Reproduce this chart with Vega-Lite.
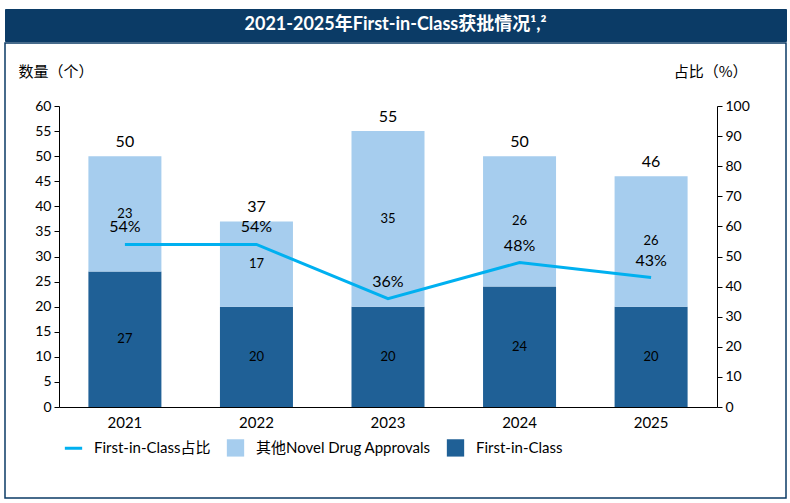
{
  "$schema": "https://vega.github.io/schema/vega-lite/v6.json",
  "padding": {"left": 4, "top": 8, "right": 5, "bottom": 5},
  "background": "white",
  "spacing": 0,
  "config": {
    "font": "Lato, Noto Sans CJK SC",
    "axis": {"labelFont": "Lato, Noto Sans CJK SC", "titleFont": "Noto Sans CJK SC", "labelColor": "black", "domainColor": "black", "tickColor": "black", "grid": false},
    "legend": {"labelFont": "Lato, Noto Sans CJK SC"}
  },
  "vconcat": [
    {
      "width": 781,
      "height": 32,
      "view": {"fill": "#0b3b66", "stroke": "#0b3b66"},
      "data": {"values": [{"t": "2021-2025年First-in-Class获批情况¹,²"}]},
      "mark": {"type": "text", "color": "white", "fontSize": 18, "fontWeight": "bold", "font": "Lato, Noto Sans CJK SC", "baseline": "middle", "align": "center"},
      "encoding": {
        "x": {"field": "t", "type": "nominal", "axis": null, "scale": {"type": "point"}},
        "y": {"field": "t", "type": "nominal", "axis": null, "scale": {"type": "point"}},
        "text": {"field": "t"}
      }
    },
    {
      "width": 781,
      "height": 455,
      "view": {"stroke": "#0b3b66", "strokeWidth": 1.5, "fill": "white"},
      "layer": [
        {
          "data": {"values": [
            {"year": "2021", "type": "First-in-Class", "value": 27},
            {"year": "2021", "type": "其他Novel Drug Approvals", "value": 23},
            {"year": "2022", "type": "First-in-Class", "value": 20},
            {"year": "2022", "type": "其他Novel Drug Approvals", "value": 17},
            {"year": "2023", "type": "First-in-Class", "value": 20},
            {"year": "2023", "type": "其他Novel Drug Approvals", "value": 35},
            {"year": "2024", "type": "First-in-Class", "value": 24},
            {"year": "2024", "type": "其他Novel Drug Approvals", "value": 26},
            {"year": "2025", "type": "First-in-Class", "value": 20},
            {"year": "2025", "type": "其他Novel Drug Approvals", "value": 26}
          ]},
          "layer": [
            {
              "mark": {"type": "bar"},
              "encoding": {
                "x": {"field": "year", "type": "nominal", "sort": null,
                  "scale": {"range": [54, 712], "paddingInner": 0.445, "paddingOuter": 0.2235},
                  "axis": {"orient": "bottom", "offset": -91, "title": null, "labelAngle": 0, "labelFontSize": 15, "ticks": false, "labelPadding": 8, "domainWidth": 1}},
                "y": {"field": "value", "type": "quantitative", "stack": "zero",
                  "scale": {"domain": [0, 60], "range": [364, 63], "nice": false},
                  "axis": {"orient": "left", "offset": -54, "values": [0,5,10,15,20,25,30,35,40,45,50,55,60], "labelOverlap": false, "title": "数量（个）", "titleAngle": 0, "titleX": -41, "titleY": 28, "titleAlign": "left", "titleBaseline": "middle", "titleFontSize": 15, "titleFontWeight": "normal", "titleColor": "black", "labelFontSize": 14, "tickSize": 5, "labelPadding": 3}},
                "color": {"field": "type", "type": "nominal",
                  "scale": {"domain": ["First-in-Class占比", "其他Novel Drug Approvals", "First-in-Class"], "range": ["#00b0f0", "#a6cdee", "#1f6096"]},
                  "legend": {"orient": "none", "legendX": 61, "legendY": 431, "direction": "horizontal", "title": null, "labelFontSize": 15, "labelColor": "black", "labelLimit": 400, "symbolSize": 300, "labelOffset": 13, "columnPadding": 15, "padding": 0,
                    "encode": {"symbols": {"update": {
                      "shape": {"signal": "datum.value === 'First-in-Class占比' ? 'stroke' : 'square'"},
                      "stroke": {"signal": "datum.value === 'First-in-Class占比' ? '#00b0f0' : 'transparent'"},
                      "strokeWidth": {"signal": "datum.value === 'First-in-Class占比' ? 3 : 0"},
                      "opacity": {"value": 1}
                    }}}}},
                "order": {"field": "type", "sort": "ascending"}
              }
            },
            {
              "transform": [
                {"stack": "value", "groupby": ["year"], "sort": [{"field": "type", "order": "ascending"}], "as": ["v0", "v1"]},
                {"calculate": "(datum.v0 + datum.v1) / 2", "as": "mid"}
              ],
              "mark": {"type": "text", "fontSize": 13, "color": "black", "baseline": "middle"},
              "encoding": {
                "x": {"field": "year", "type": "nominal", "sort": null},
                "y": {"field": "mid", "type": "quantitative",
                  "axis": {"orient": "left", "offset": -54, "values": [0,5,10,15,20,25,30,35,40,45,50,55,60], "labelOverlap": false, "title": "数量（个）", "titleAngle": 0, "titleX": -41, "titleY": 28, "titleAlign": "left", "titleBaseline": "middle", "titleFontSize": 15, "titleFontWeight": "normal", "titleColor": "black", "labelFontSize": 14, "tickSize": 5, "labelPadding": 3}},
                "text": {"field": "value", "type": "quantitative"}
              }
            },
            {
              "mark": {"type": "text", "fontSize": 16, "color": "black", "baseline": "alphabetic", "dy": -9},
              "encoding": {
                "x": {"field": "year", "type": "nominal", "sort": null},
                "y": {"aggregate": "sum", "field": "value", "type": "quantitative",
                  "axis": {"orient": "left", "offset": -54, "values": [0,5,10,15,20,25,30,35,40,45,50,55,60], "labelOverlap": false, "title": "数量（个）", "titleAngle": 0, "titleX": -41, "titleY": 28, "titleAlign": "left", "titleBaseline": "middle", "titleFontSize": 15, "titleFontWeight": "normal", "titleColor": "black", "labelFontSize": 14, "tickSize": 5, "labelPadding": 3}},
                "text": {"aggregate": "sum", "field": "value", "type": "quantitative"}
              }
            }
          ]
        },
        {
          "data": {"values": [
            {"year": "2021", "pct": 54, "lbl": "54%", "s": "First-in-Class占比"},
            {"year": "2022", "pct": 54, "lbl": "54%", "s": "First-in-Class占比"},
            {"year": "2023", "pct": 36, "lbl": "36%", "s": "First-in-Class占比"},
            {"year": "2024", "pct": 48, "lbl": "48%", "s": "First-in-Class占比"},
            {"year": "2025", "pct": 43, "lbl": "43%", "s": "First-in-Class占比"}
          ]},
          "layer": [
            {
              "mark": {"type": "line", "strokeWidth": 3},
              "encoding": {
                "x": {"field": "year", "type": "nominal", "sort": null},
                "y": {"field": "pct", "type": "quantitative",
                  "scale": {"domain": [0, 100], "range": [364, 63], "nice": false},
                  "axis": {"orient": "right", "offset": -69, "values": [0,10,20,30,40,50,60,70,80,90,100], "labelOverlap": false, "title": "占比（%）", "titleAngle": 0, "titleX": 30, "titleY": 28, "titleAlign": "right", "titleBaseline": "middle", "titleFontSize": 15, "titleFontWeight": "normal", "titleColor": "black", "labelFontSize": 14, "tickSize": 5, "labelPadding": 3}},
                "color": {"field": "s", "type": "nominal"}
              }
            },
            {
              "mark": {"type": "text", "fontSize": 16, "color": "black", "baseline": "middle", "dy": -17},
              "encoding": {
                "x": {"field": "year", "type": "nominal", "sort": null},
                "y": {"field": "pct", "type": "quantitative",
                  "axis": {"orient": "right", "offset": -69, "values": [0,10,20,30,40,50,60,70,80,90,100], "labelOverlap": false, "title": "占比（%）", "titleAngle": 0, "titleX": 30, "titleY": 28, "titleAlign": "right", "titleBaseline": "middle", "titleFontSize": 15, "titleFontWeight": "normal", "titleColor": "black", "labelFontSize": 14, "tickSize": 5, "labelPadding": 3}},
                "text": {"field": "lbl", "type": "nominal"}
              }
            }
          ]
        }
      ],
      "resolve": {"scale": {"y": "independent"}}
    }
  ]
}
